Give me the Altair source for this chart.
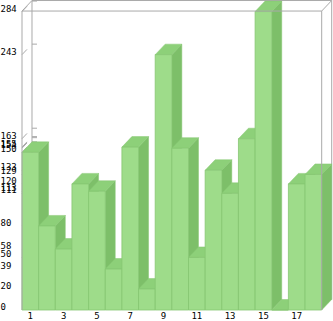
import altair as alt
import pandas as pd

# ---- data ----
categories = list(range(1, 19))
values = [150, 80, 58, 120, 113, 39, 155, 20, 243, 154, 50, 133, 111, 163, 284, 0, 120, 129]
x_tick_labels = [1, 3, 5, 7, 9, 11, 13, 15, 17]

# ---- 3D geometry parameters (in data units) ----
DX = 0.6      # depth offset along x (fraction of a bar slot)
DY = 10       # depth offset along y (value units)
TOP = 284.5   # front frame top
NB = len(categories)

xs = alt.Scale(domain=[0, 310 / 16.65], nice=False, zero=False)
ys = alt.Scale(domain=[0, 295], nice=False, zero=False)

FRONT = "#9edc8a"
TOPC = "#8dd079"
SIDE = "#7dbf69"
EDGE = "#86c772"
GREY = "#a9a9a9"

# faces
front = pd.DataFrame({"bar": categories, "x": [c - 1 for c in categories],
                      "x2": categories, "y": [0] * NB, "y2": values})
side_rows, top_rows = [], []
for c, v in zip(categories, values):
    side_rows.append(dict(bar=c, x=c, y=0, y2=v))
    side_rows.append(dict(bar=c, x=c + DX, y=DY, y2=v + DY))
    top_rows.append(dict(bar=c, y=v, x=c - 1, x2=c))
    top_rows.append(dict(bar=c, y=v + DY, x=c - 1 + DX, x2=c + DX))
side = pd.DataFrame(side_rows)
topf = pd.DataFrame(top_rows)

# y tick values = distinct bar values
yticks = sorted(set(values))
tick_rows = []
for v in yticks:
    tick_rows.append(dict(x=0, x2=DX / 2, y=v, y2=v + DY / 2))
    tick_rows.append(dict(x=DX, x2=DX + 0.3, y=v + DY, y2=v + DY))
ticks = pd.DataFrame(tick_rows)

back_frame = pd.DataFrame([
    dict(x=DX, x2=DX, y=DY, y2=TOP + DY),
    dict(x=DX, x2=NB + DX, y=TOP + DY, y2=TOP + DY),
    dict(x=NB + DX, x2=NB + DX, y=DY, y2=TOP + DY),
])
front_frame = pd.DataFrame([
    dict(x=0, x2=0, y=0, y2=TOP),
    dict(x=0, x2=NB, y=TOP, y2=TOP),
    dict(x=NB, x2=NB, y=0, y2=TOP),
    dict(x=0, x2=DX, y=TOP, y2=TOP + DY),
    dict(x=NB, x2=NB + DX, y=TOP, y2=TOP + DY),
])

def segs(df, color):
    return alt.Chart(df).mark_rule(color=color, strokeWidth=1).encode(
        x=alt.X("x:Q", scale=xs, axis=None), x2="x2:Q",
        y=alt.Y("y:Q", scale=ys, axis=None), y2="y2:Q")

back_layer = segs(back_frame, GREY)
tick_layer = segs(ticks, GREY)

side_layer = alt.Chart(side).mark_area(orient="vertical", color=SIDE,
                                       stroke=EDGE, strokeWidth=0.5).encode(
    x=alt.X("x:Q", scale=xs, axis=None),
    y=alt.Y("y:Q", scale=ys, axis=None), y2="y2:Q",
    detail="bar:N")

top_layer = alt.Chart(topf).mark_area(orient="horizontal", color=TOPC,
                                      stroke=EDGE, strokeWidth=0.5).encode(
    y=alt.Y("y:Q", scale=ys, axis=None),
    x=alt.X("x:Q", scale=xs, axis=None), x2="x2:Q",
    detail="bar:N")

front_layer = alt.Chart(front).mark_rect(color=FRONT, stroke=EDGE, strokeWidth=0.8).encode(
    x=alt.X("x:Q", scale=xs, axis=None), x2="x2:Q",
    y=alt.Y("y:Q", scale=ys, axis=None), y2="y2:Q")

front_frame_layer = segs(front_frame, GREY)

ylab = alt.Chart(pd.DataFrame({"v": yticks})).mark_text(
    align="left", baseline="middle", dy=-3, font="DejaVu Sans Mono",
    fontSize=9, color="#000000").encode(
    x=alt.value(-21.5),
    y=alt.Y("v:Q", scale=ys, axis=None),
    text="v:Q")

xlab = alt.Chart(pd.DataFrame({"c": x_tick_labels,
                               "xc": [c - 0.5 for c in x_tick_labels]})).mark_text(
    align="center", baseline="middle", font="DejaVu Sans Mono",
    fontSize=9, color="#000000").encode(
    x=alt.X("xc:Q", scale=xs, axis=None),
    y=alt.value(316),
    text="c:Q")

chart = alt.layer(back_layer, tick_layer, side_layer, top_layer, front_layer,
                  front_frame_layer, ylab, xlab).properties(
    width=310, height=310,
    padding={"left": 22, "top": 0, "right": 1, "bottom": 11},
    autosize=alt.AutoSizeParams(type="none"),
    background="#ffffff",
).configure_view(stroke=None)

chart.save("out.html", embed_options={"renderer": "svg", "actions": False})
